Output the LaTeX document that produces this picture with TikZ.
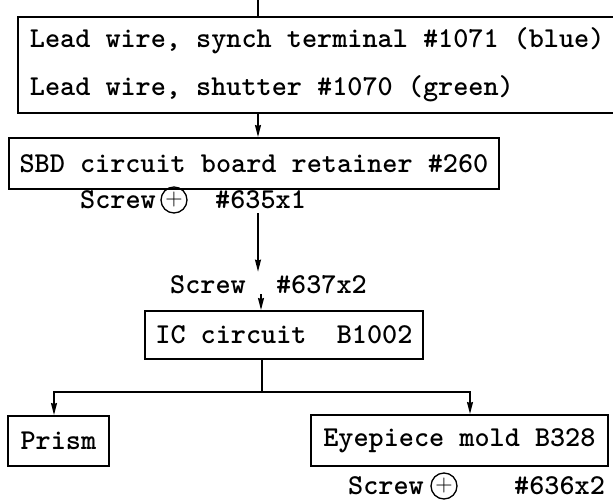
\documentclass[tikz,border=0pt]{standalone}
\usepackage{fontspec}
\usetikzlibrary{arrows.meta}
\begin{document}
\begin{tikzpicture}[x=1pt,y=-1pt,
  box/.style={draw,line width=1.8pt,inner ysep=0pt,font=\ttfamily\bfseries\fontsize{28.8}{48}\selectfont},
  txt/.style={font=\ttfamily\bfseries\fontsize{28.8}{30}\selectfont,inner sep=0pt,anchor=west},
  con/.style={line width=1.4pt},
  arr/.style={con,-{Stealth[length=12pt,width=6pt,inset=1pt]}},
  pluscirc/.style={draw,circle,line width=1.3pt,minimum size=26pt,inner sep=0pt,font=\fontsize{24}{24}\selectfont}
]
\useasboundingbox (0,0) rectangle (613,503);
% boxes
\node[box,anchor=north west,minimum width=595pt,minimum height=96pt,inner xsep=12pt,align=left] (b1) at (17,16)
  {Lead wire, synch terminal \#1071 (blue)\\Lead wire, shutter \#1070 (green)};
\node[box,anchor=north west,minimum width=490pt,minimum height=51pt] (b2) at (8,137)
  {SBD circuit board retainer \#260};
\node[box,anchor=north west,minimum width=278pt,minimum height=48pt] (ic) at (144,310)
  {IC circuit\ \ B1002};
\node[box,anchor=north west,minimum width=101pt,minimum height=50pt] (pr) at (7,415)
  {Prism};
\node[box,anchor=north west,minimum width=297pt,minimum height=51pt] (ey) at (310,414)
  {Eyepiece mold B328};
% screw labels
\node[txt] (s1a) at (80,200) {Screw};
\node[pluscirc] (s1c) at (174,200) {+};
\node[txt] (s1b) at (215,200) {\#635x1};
\node[txt] (s2) at (170,285) {Screw\ \ \#637x2};
\node[txt] (s3a) at (348,486) {Screw};
\node[pluscirc] (s3c) at (444,486) {+};
\node[txt] (s3b) at (514,486) {\#636x2};
% connector coordinates
\coordinate (top) at (258,0);
\coordinate (ax) at (258,0);
\coordinate (bx) at (261,0);
\coordinate (jm) at (262,392);
\coordinate (jl) at (54,392);
\coordinate (jr) at (470,392);
% connectors
\draw[con] (top) -- (b1.north -| top);
\draw[arr] ([yshift=-4pt]s1b.south -| ax) -- ([yshift=4pt]s2.north -| ax);
\draw[arr] (b1.south -| ax) -- (b2.north -| ax);
\draw[arr] (s2.south -| bx) -- (ic.north -| bx);
\draw[con] (ic.south -| jm) -- (jm);
\draw[arr] (jm) -- (jl) -- (pr.north -| jl);
\draw[arr] (jm) -- (jr) -- (ey.north -| jr);
\end{tikzpicture}
\end{document}
